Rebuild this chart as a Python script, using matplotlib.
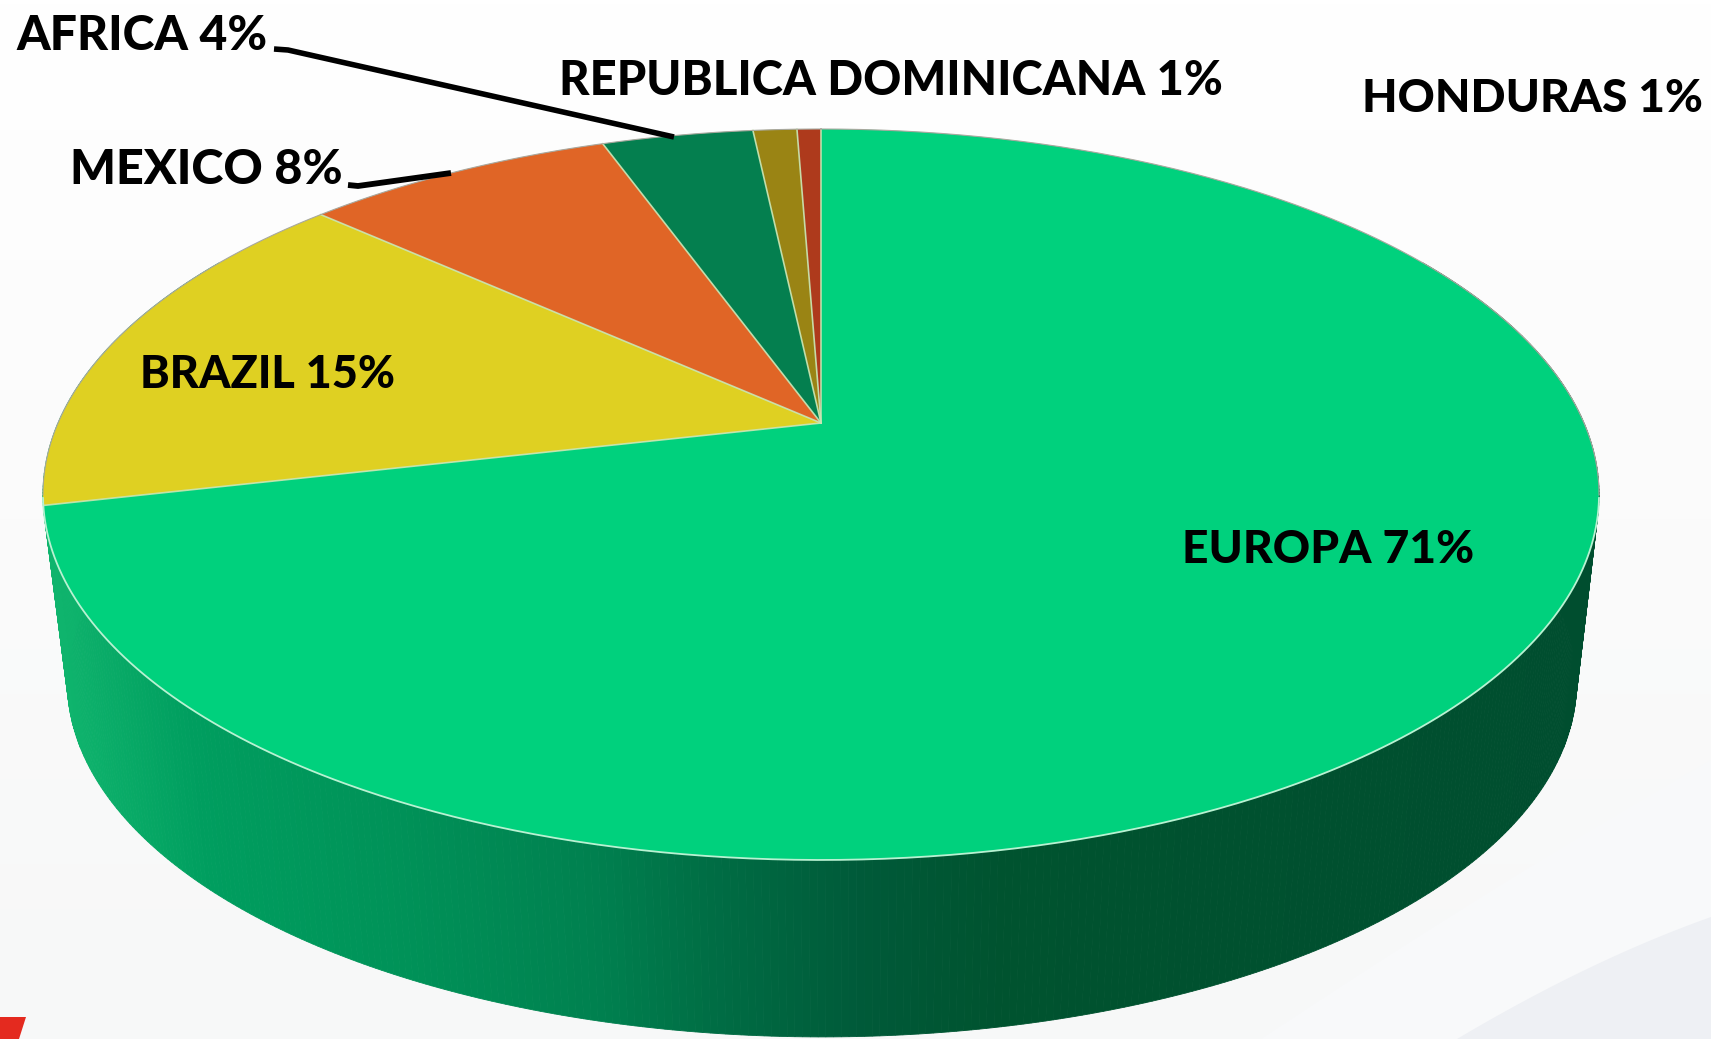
import numpy as np
import matplotlib
matplotlib.use("Agg")
import matplotlib.pyplot as plt
from matplotlib.colors import LinearSegmentedColormap, to_rgb

# ---- data (clockwise from 12 o'clock; shares) ----
categories = ["EUROPA", "BRAZIL", "MEXICO", "AFRICA", "REPUBLICA DOMINICANA", "HONDURAS"]
shares = [71.4, 15.3, 7.8, 3.8, 1.1, 0.6]
label_pct = [71, 15, 8, 4, 1, 1]
colors = ["#00D17D", "#DFD022", "#E06526", "#047F4F", "#9A8414", "#AE3A1C"]

W, H = 1711, 1039
fig = plt.figure(figsize=(W / 100, H / 100), dpi=100, facecolor="#fbfbfb")
ax = fig.add_axes([0, 0, 1, 1])
ax.axis("off")

# ---- background ----
bg = LinearSegmentedColormap.from_list("bg", ["#ffffff", "#fbfbfb", "#f7f8f8"])
ax.imshow(np.linspace(0, 1, 256)[:, None], cmap=bg, extent=(0, W, H, 0), aspect="auto", zorder=-1)
ax.set_xlim(0, W)
ax.set_ylim(H, 0)


def curve(p0, p1, p2, n=60):
    t = np.linspace(0, 1, n)[:, None]
    return (1 - t) ** 2 * np.array(p0) + 2 * t * (1 - t) * np.array(p1) + t ** 2 * np.array(p2)


c1 = curve((1711, 760), (1500, 880), (1261, 1039))
ax.fill(np.r_[c1[:, 0], 1711], np.r_[c1[:, 1], 1039], color="#f8f9fa", lw=0, zorder=0)
c2 = curve((1711, 917), (1590, 960), (1457, 1039))
ax.fill(np.r_[c2[:, 0], 1711], np.r_[c2[:, 1], 1039], color="#eef0f4", lw=0, zorder=0.1)
ax.fill([0, 26, 19, 0], [1017, 1017, 1039, 1039], color="#e42a1f", lw=0, zorder=0.2)

# ---- perspective disc ----
k = 0.1956
XC, YC, A, B = 821, 423, 763, 351.5
XC2, YC2, A2, B2 = 822, 613, 740, 341


def project(theta, r=1.0, xc=XC, yc=YC, a=A, b=B):
    """theta: clockwise from the top of the disc, in radians."""
    x, y = r * np.sin(theta), r * np.cos(theta)
    w = 1 + k * y
    return xc + a * x / w, yc - b * y / w


# side wall with horizontal shading
side_stops = [(60, "#0fb46d"), (200, "#009e5f"), (400, "#009258"), (600, "#00804f"),
              (700, "#006f45"), (860, "#005a39"), (1000, "#00532f"), (1577, "#004e2f")]
xs_s = [s[0] for s in side_stops]
rgb_s = np.array([to_rgb(s[1]) for s in side_stops])
th = np.linspace(np.radians(60), np.radians(300), 500)
xt, yt = project(th)
xb, yb = project(th, xc=XC2, yc=YC2, a=A2, b=B2)
for i in range(len(th) - 1):
    xm = 0.25 * (xt[i] + xt[i + 1] + xb[i] + xb[i + 1])
    col = [np.interp(xm, xs_s, rgb_s[:, c]) for c in range(3)]
    ax.fill([xt[i], xt[i + 1], xb[i + 1], xb[i]], [yt[i], yt[i + 1], yb[i + 1], yb[i]],
            color=col, lw=0.6, zorder=1)

# top wedges
edges = 2 * np.pi * np.cumsum(np.r_[0, shares]) / np.sum(shares)
for i, col in enumerate(colors):
    t = np.linspace(edges[i], edges[i + 1], 200)
    x, y = project(t)
    ax.fill(np.r_[XC, x], np.r_[YC, y], facecolor=col, edgecolor="none", zorder=2)
for e in edges[:-1]:
    x, y = project(e)
    ax.plot([XC, x], [YC, y], color="#c9e6b4", lw=1.2, alpha=0.9, zorder=3)

# rim
t = np.linspace(0, 2 * np.pi, 800)
x, y = project(t)
near = np.cos(t) <= -0.2
ax.plot(x[near], y[near], color="#b8f2d2", lw=1.3, zorder=3)
ax.plot(np.where(~near, x, np.nan), np.where(~near, y, np.nan), color="#a8a89e", lw=0.8, zorder=3)

# ---- leader lines ----
ax.plot([274, 288, 674], [49, 50, 137], color="black", lw=4.0, solid_capstyle="butt", zorder=4)
ax.plot([348, 358, 451], [185, 186, 173], color="black", lw=4.2, solid_capstyle="butt", zorder=4)

# ---- labels ----
positions = {
    "EUROPA": (1182, 563, 1474),
    "BRAZIL": (140, 388, 395),
    "MEXICO": (70, 184, 342),
    "AFRICA": (16, 50, 267),
    "REPUBLICA DOMINICANA": (559, 95, 1220),
    "HONDURAS": (1362, 112, 1702),
}
renderer = fig.canvas.get_renderer()
for name, pct in zip(categories, label_pct):
    x0, base, x1 = positions[name]
    txt = ax.text(x0, base, f"{name} {pct}%", family="Lato", weight=900,
                  fontsize=30, ha="left", va="baseline", color="black", zorder=5)
    width = txt.get_window_extent(renderer).width
    txt.set_fontsize(30 * (x1 - x0) / width)

fig.savefig("out.png", dpi=100, facecolor=fig.get_facecolor())
